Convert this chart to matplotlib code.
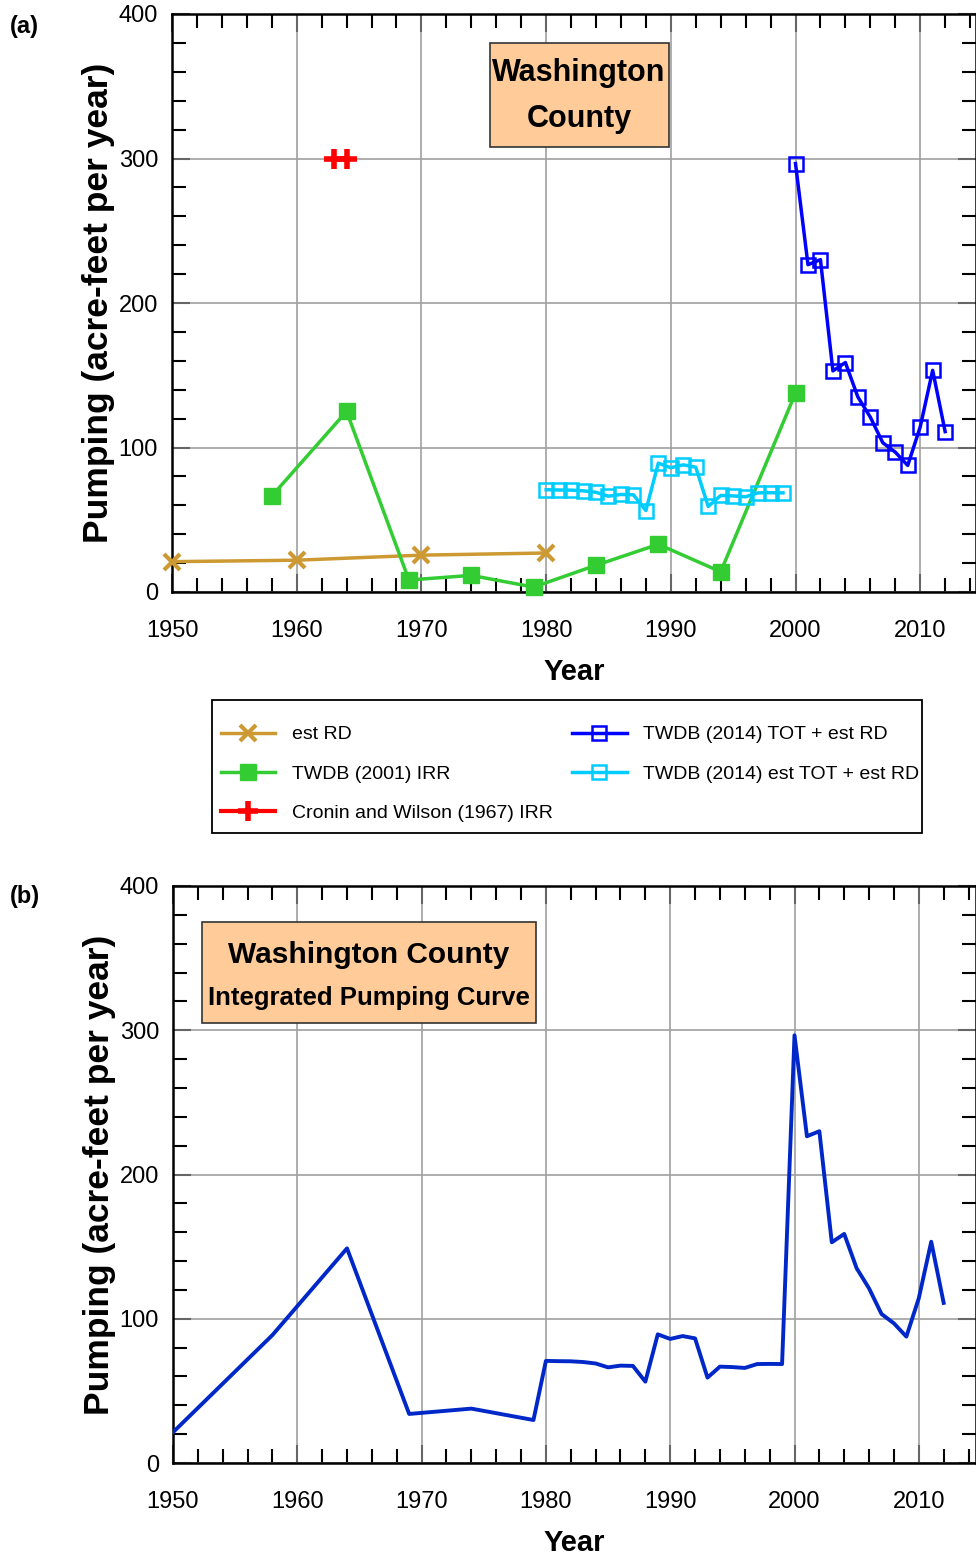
import numpy as np
import matplotlib
matplotlib.use('Agg')
import matplotlib.pyplot as plt
from matplotlib import font_manager
from matplotlib.ticker import MultipleLocator

# data
rd_year = [1950, 1960, 1970, 1980]
rd_val = [21, 22, 25.5, 27]

irr01_year = [1958, 1964, 1969, 1974, 1979, 1984, 1989, 1994, 2000]
irr01_val = [66.4, 125, 8.3, 11.5, 3.4, 18.5, 33, 14, 137.7]

cronin_year = [1963, 1964]
cronin_val = [300, 300]

est_year = list(range(1980, 2000))
est_val = [70.8, 70.6, 70.5, 70.0, 69.0, 66.3, 67.5, 67.3, 56.4, 89.2,
           86.0, 88.0, 86.4, 59.2, 66.8, 66.5, 65.9, 68.6, 68.7, 68.6]

tot_year = list(range(2000, 2013))
tot_val = [296.5, 226.5, 230.0, 153.0, 158.8, 135.0, 121.0, 103.3, 96.8,
           87.6, 114.2, 153.4, 111.0]

# integrated curve (b): early part, then the 2014 estimates
early_year = [1950, 1958, 1964, 1969, 1974, 1979]
early_val = [21.3, 88.7, 148.8, 34.0, 37.7, 29.8]
int_year = early_year + est_year + tot_year
int_val = early_val + est_val + tot_val

yticks = [0, 100, 200, 300, 400]
xticks = [1950, 1960, 1970, 1980, 1990, 2000, 2010]

names = set(f.name for f in font_manager.fontManager.ttflist)
narrow = 'Liberation Sans Narrow' if 'Liberation Sans Narrow' in names else 'Liberation Sans'
plt.rcParams['font.family'] = [narrow, 'DejaVu Sans']
bold_font = 'Liberation Sans'

W, H = 976, 1557
fig = plt.figure(figsize=(W / 100, H / 100), dpi=100)


def style_axes(ax, xmax):
    ax.set_xlim(1950, xmax)
    ax.set_ylim(0, 400)
    ax.set_xticks(xticks)
    ax.set_yticks(yticks)
    ax.xaxis.set_minor_locator(MultipleLocator(2))
    ax.yaxis.set_minor_locator(MultipleLocator(20))
    ax.tick_params(which='both', direction='in', top=True, right=True,
                   labelsize=17)
    ax.tick_params(axis='x', which='both', pad=20)
    ax.tick_params(axis='y', which='both', pad=10)
    ax.tick_params(which='major', length=13, width=1.5, color='#666666')
    ax.tick_params(which='minor', length=10, width=1.5, color='black')
    ax.grid(True, which='major', color='#a0a0a0', lw=1.2)
    for s in ax.spines.values():
        s.set_linewidth(1.8)
    ax.set_xlabel('Year', fontsize=21, fontweight='bold', labelpad=12)
    ax.set_ylabel('Pumping (acre-feet per year)', fontsize=25.5,
                  fontweight='bold', family=bold_font, labelpad=3)


def box(x0, y0, x1, y1, fc, ec, lw):
    fig.patches.append(plt.Rectangle((x0 / W, 1 - y1 / H), (x1 - x0) / W,
                                     (y1 - y0) / H, transform=fig.transFigure,
                                     fc=fc, ec=ec, lw=lw, zorder=4))


# ---- panel (a)
ax1 = fig.add_axes([172 / W, 1 - 592 / H, 804 / W, 578 / H])
style_axes(ax1, 1950 + 804 / 12.47)
h1, = ax1.plot(rd_year, rd_val, color='#cc9933', lw=2.5, marker='x',
               ms=11, mew=3, label='est RD', clip_on=False, zorder=3)
h2, = ax1.plot(irr01_year, irr01_val, color='#33cc33', lw=2.5, marker='s',
               ms=11, label='TWDB (2001) IRR', clip_on=False, zorder=3)
h3, = ax1.plot(cronin_year, cronin_val, color='red', lw=3, marker='+',
               ms=14, mew=4, label='Cronin and Wilson (1967) IRR', zorder=3)
h4, = ax1.plot(tot_year, tot_val, color='#0000ff', lw=2.5, marker='s',
               ms=10, mfc='none', mew=1.8, label='TWDB (2014) TOT + est RD',
               zorder=3)
h5, = ax1.plot(est_year, est_val, color='#00ccff', lw=2.5, marker='s',
               ms=10, mfc='none', mew=1.8,
               label='TWDB (2014) est TOT + est RD', zorder=3)

box(490, 43, 669, 147, '#ffcc99', '#333333', 1.2)
fig.text(579 / W, 1 - 73 / H, 'Washington', fontsize=22, fontweight='bold',
         ha='center', va='center', zorder=5)
fig.text(579 / W, 1 - 119 / H, 'County', fontsize=22, fontweight='bold',
         ha='center', va='center', zorder=5)

fig.text(10 / W, 1 - 26 / H, '(a)', fontsize=17, fontweight='bold',
         family=bold_font, va='center')

# legend: frame drawn as a plain box, entries placed inside it
box(212, 700, 922, 833, 'white', 'black', 1.3)
leg = fig.legend(handles=[h1, h2, h3, h4, h5], ncol=2, loc='upper left',
                 bbox_to_anchor=(217 / W, 1 - 722 / H),
                 fontsize=14, frameon=False, handlelength=2.8,
                 labelspacing=1.12, columnspacing=1.0, borderpad=0.2,
                 handletextpad=0.85, borderaxespad=0)
leg.set_zorder(6)

# ---- panel (b)
ax2 = fig.add_axes([173 / W, 1 - 1463 / H, 803 / W, 577 / H])
style_axes(ax2, 1950 + 803 / 12.43)
ax2.plot(int_year, int_val, color='#0028c8', lw=2.8, zorder=3)

box(202, 922, 536, 1023, '#ffcc99', '#333333', 1.2)
fig.text(369 / W, 1 - 955 / H, 'Washington County', fontsize=21.5,
         fontweight='bold', ha='center', va='center', zorder=5)
fig.text(369 / W, 1 - 998 / H, 'Integrated Pumping Curve', fontsize=18.5,
         fontweight='bold', ha='center', va='center', zorder=5)

fig.text(10 / W, 1 - 897 / H, '(b)', fontsize=17, fontweight='bold',
         family=bold_font, va='center')

fig.savefig('out.png', dpi=100)
